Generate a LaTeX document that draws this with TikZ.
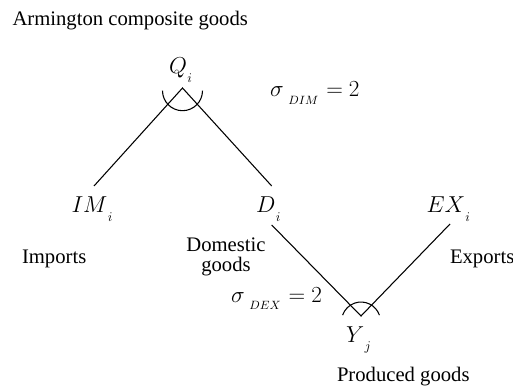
\documentclass[tikz,border=0pt]{standalone}
\usepackage{fontspec}
\setmainfont{Liberation Serif}
\newcommand{\vsub}[1]{\kern0.3pt\raisebox{-6.5pt}{\fontsize{9.6}{10}\selectfont$#1$}}
\newcommand{\ssub}[1]{\kern3.5pt\raisebox{-5.5pt}{\fontsize{9.3}{10}\selectfont$#1$}}
\begin{document}
\begin{tikzpicture}[x=0.75pt,y=-0.75pt]
\tikzset{
  lbl/.style={font=\fontsize{15.5}{17}\selectfont, inner sep=0pt, outer sep=0pt},
  var/.style={font=\fontsize{17.28}{20}\selectfont, inner sep=0pt, outer sep=0pt},
  sig/.style={font=\fontsize{16}{19}\selectfont, inner sep=0pt, outer sep=0pt},
  conn/.style={line width=0.8pt},
  nest/.style={line width=0.8pt}
}
\useasboundingbox (0,0) rectangle (513,388);
% text labels
\node[lbl, anchor=base west] (title) at (12.5,26) {Armington composite goods};
\node[lbl, anchor=base west] (imports) at (22,263) {Imports};
\node[lbl, anchor=base] (domestic) at (226,251) {Domestic};
\node[lbl, anchor=base] (dgoods) at (226,271) {goods};
\node[lbl, anchor=base west] (exports) at (450,263) {Exports};
\node[lbl, anchor=base west] (produced) at (337,381.5) {Produced goods};
% variables
\node[var, anchor=base west] (Q) at (169,74) {$Q$\vsub{i}};
\node[var, anchor=base west] (IM) at (71.5,212.5) {$IM$\vsub{i}};
\node[var, anchor=base west] (D) at (256,213) {$D$\vsub{i}};
\node[var, anchor=base west] (EX) at (426.5,213) {$EX$\vsub{i}};
\node[var, anchor=base west] (Y) at (346,342) {$Y$\vsub{j}};
\node[sig, anchor=base west] (sdim) at (270,97) {$\sigma$\ssub{DIM}\hspace{6pt}$=$\hspace{4.5pt}$2$};
\node[sig, anchor=base west] (sdex) at (231,302) {$\sigma$\ssub{DEX}\hspace{6pt}$=$\hspace{4.5pt}$2$};
% connector end points
\coordinate (qa) at (182.5,88);
\coordinate (imend) at (94,186);
\coordinate (dtop) at (271.7,186);
\coordinate (dbot) at (271.7,225);
\coordinate (exbot) at (450,224);
\coordinate (ya) at (361,316);
\coordinate (qc) at (182.5,90.7);
\coordinate (yc) at (361,321.5);
% connectors
\draw[conn] (imend) -- (qa) -- (dtop);
\draw[conn] (dbot) -- (ya) -- (exbot);
% nest arcs
\draw[nest] ([shift={(180:15pt)}]qc) arc[start angle=180, end angle=360, radius=15pt];
\draw[nest] ([shift={(19:14.6pt)}]yc) arc[start angle=19, end angle=161, radius=14.6pt];
\end{tikzpicture}
\end{document}
